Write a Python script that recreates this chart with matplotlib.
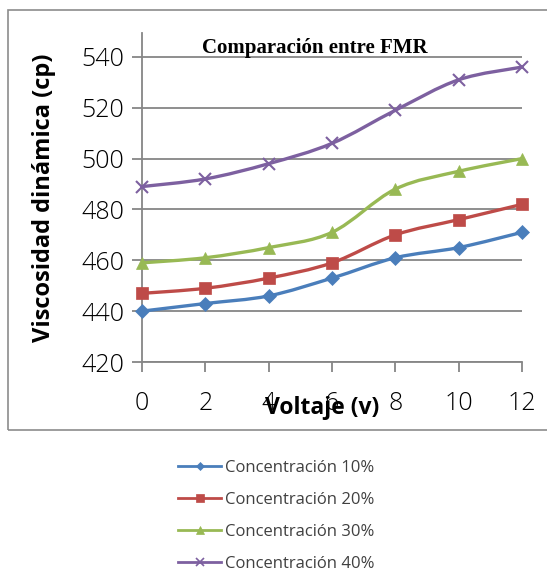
import numpy as np
import matplotlib
matplotlib.use('Agg')
import matplotlib.pyplot as plt
from matplotlib.path import Path
from matplotlib.patches import PathPatch, Rectangle
from matplotlib.lines import Line2D

voltaje = [0, 2, 4, 6, 8, 10, 12]
conc_10 = [440, 443, 446, 453, 461, 465, 471]
conc_20 = [447, 449, 453, 459, 470, 476, 482]
conc_30 = [459, 461, 465, 471, 488, 495, 500]
conc_40 = [489, 492, 498, 506, 519, 531, 536]
series_labels = ['Concentración 10%', 'Concentración 20%',
                 'Concentración 30%', 'Concentración 40%']
colors = ['#4a7ebb', '#be4b48', '#98b954', '#7d60a0']
markers = ['D', 's', '^', 'x']
msizes = [7, 9, 9, 9]


def smooth_path(x, y):
    # excel-like smooth line, bezier through the points
    x = np.asarray(x, float)
    y = np.asarray(y, float)
    verts = [(x[0], y[0])]
    codes = [Path.MOVETO]
    n = len(x)
    for i in range(n - 1):
        x0, y0 = (x[i - 1], y[i - 1]) if i > 0 else (x[i], y[i])
        x3, y3 = (x[i + 2], y[i + 2]) if i + 2 < n else (x[i + 1], y[i + 1])
        c1 = (x[i] + (x[i + 1] - x0) / 6, y[i] + (y[i + 1] - y0) / 6)
        c2 = (x[i + 1] - (x3 - x[i]) / 6, y[i + 1] - (y3 - y[i]) / 6)
        verts += [c1, c2, (x[i + 1], y[i + 1])]
        codes += [Path.CURVE4] * 3
    return Path(verts, codes)


fig = plt.figure(figsize=(5.47, 5.78), dpi=100)
fig.patches.append(Rectangle((8 / 547, 1 - 430 / 578), 1.0, (430 - 10) / 578,
                             transform=fig.transFigure, fill=False,
                             edgecolor='#8c8c8c', lw=1.2))

ax = fig.add_axes([142 / 547, 1 - 362 / 578, 380 / 547, 329 / 578])
grid = '#868686'
for v in [420, 440, 460, 480, 500, 520, 540]:
    ax.axhline(v, color=grid, lw=1.3, zorder=1)

for ys, c, m, ms, lab in zip([conc_10, conc_20, conc_30, conc_40],
                             colors, markers, msizes, series_labels):
    ax.add_patch(PathPatch(smooth_path(voltaje, ys), fill=False,
                           edgecolor=c, lw=2.4, zorder=3))
    ax.plot(voltaje, ys, linestyle='none', marker=m, color=c,
            markersize=ms, markeredgewidth=1.5 if m == 'x' else 0.5,
            zorder=4, clip_on=False)

ax.set_xlim(0, 12)
ax.set_ylim(420, 549.4)
ax.set_xticks(voltaje)
ax.set_yticks([420, 440, 460, 480, 500, 520, 540])
for s in ['top', 'right']:
    ax.spines[s].set_visible(False)
for s in ['left', 'bottom']:
    ax.spines[s].set_color(grid)
    ax.spines[s].set_linewidth(1.3)
ax.tick_params(axis='both', colors=grid, length=7, width=1.3,
               labelcolor='#000000', labelsize=18)
ax.tick_params(axis='x', pad=14)
ax.tick_params(axis='y', pad=6)
for t in ax.get_xticklabels() + ax.get_yticklabels():
    t.set_family('Open Sans')
    t.set_fontweight('light')

ax.set_xlabel('Voltaje (v)', fontsize=16.5, fontweight='bold',
              family='Open Sans')
ax.xaxis.set_label_coords((322 - 142) / 380, -(396 - 362) / 329)
ax.set_ylabel('Viscosidad dinámica (cp)', fontsize=17, fontweight='bold',
              family='Open Sans')
ax.yaxis.set_label_coords(-(142 - 56) / 380, 0.5)
ax.text(0.455, 0.955, 'Comparación entre FMR', transform=ax.transAxes,
        ha='center', va='center', fontsize=15, fontweight='bold',
        family='Liberation Serif')

handles = [Line2D([], [], color=c, marker=m, lw=2, markersize=ms * 0.6,
                  markeredgewidth=1.2 if m == 'x' else 0.5)
           for c, m, ms in zip(colors, markers, msizes)]
leg = fig.legend(handles, series_labels, loc='upper left',
                 bbox_to_anchor=(163 / 547, 1 - 445 / 578), frameon=False,
                 prop={'family': 'Open Sans', 'size': 12},
                 labelspacing=0.95, handlelength=2.6, handletextpad=0.2)
for t in leg.get_texts():
    t.set_color('#404040')

fig.savefig('out.png', dpi=100)
